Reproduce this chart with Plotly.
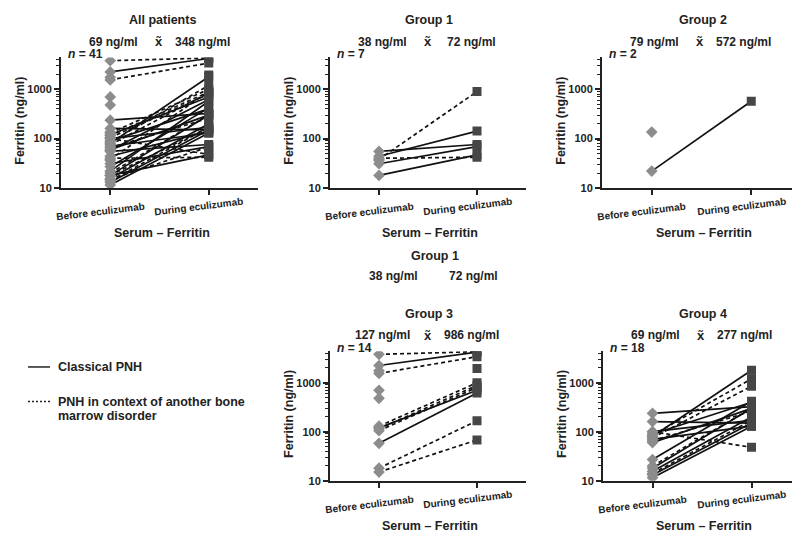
import plotly.graph_objects as go

# ---------------- data (ng/ml); None = value missing ----------------
# type: "C" = classical PNH (solid), "O" = PNH in context of another bone marrow disorder (dashed)
G1_BEFORE = [55, 38, 44, 40, 31, 18, 36]
G1_AFTER = [76, 900, 142, 42, 69, 47, None]
G1_TYPE = ["C", "O", "C", "O", "C", "C", "C"]

G2_BEFORE = [136, 22]
G2_AFTER = [None, 572]
G2_TYPE = ["C", "C"]

G3_BEFORE = [3800, 2250, 1550, 1750, 700, 480, None, 130, 120, 115, 105, 58, 18, 15]
G3_AFTER = [4300, 4200, 3400, None, None, None, 1950, 1000, 700, 880, 800, 620, 168, 68]
G3_TYPE = ["O", "C", "O", "C", "C", "C", "C", "O", "C", "O", "O", "C", "O", "O"]

G4_BEFORE = [237, 161, 100, 100, 80, 85, 75, 90, 70, 60, 65, 27, 20, 18, 15.5, 14, 13, 11.5]
G4_AFTER = [324, 150, 170, 48, 1800, 1200, 850, 400, 130, 300, 260, 420, 300, 300, 200, 170, 150, 130]
G4_TYPE = ["C", "C", "C", "O", "C", "O", "O", "C", "C", "C", "O", "C", "O", "C", "C", "O", "C", "C"]

CATEGORIES = ["Before eculizumab", "During eculizumab"]
PANEL_TITLES = ["All patients", "Group 1", "Group 2", "Group 3", "Group 4"]
MEDIAN_BEFORE = ["69 ng/ml", "38 ng/ml", "79 ng/ml", "127 ng/ml", "69 ng/ml"]
MEDIAN_AFTER = ["348 ng/ml", "72 ng/ml", "572 ng/ml", "986 ng/ml", "277 ng/ml"]
N_LABELS = ["41", "7", "2", "14", "18"]

groups = [
    (G1_BEFORE + G2_BEFORE + G3_BEFORE + G4_BEFORE,
     G1_AFTER + G2_AFTER + G3_AFTER + G4_AFTER,
     G1_TYPE + G2_TYPE + G3_TYPE + G4_TYPE),
    (G1_BEFORE, G1_AFTER, G1_TYPE),
    (G2_BEFORE, G2_AFTER, G2_TYPE),
    (G3_BEFORE, G3_AFTER, G3_TYPE),
    (G4_BEFORE, G4_AFTER, G4_TYPE),
]

W, H = 800, 540
FONT = "Liberation Sans, Arial, sans-serif"

# panel geometry in window pixels: (left, right, top, bottom)
panels = [
    (53, 250, 50, 182),
    (322, 518, 50, 182),
    (594, 793, 50, 182),
    (322, 518, 347, 478),
    (595, 793, 347, 478),
]


def PX(x):
    return x / W


def PY(y):
    return 1 - y / H


fig = go.Figure()
layout = dict(
    width=W, height=H, margin=dict(l=0, r=0, t=0, b=0),
    paper_bgcolor="white", plot_bgcolor="white", showlegend=False,
    font=dict(family=FONT, color="#222"),
)
annotations = []


def ann(x, y, text, size=12, xanchor="center", angle=0):
    annotations.append(dict(
        x=PX(x), y=PY(y), xref="paper", yref="paper", text=text, showarrow=False,
        font=dict(size=size, family=FONT, color="#222"), xanchor=xanchor,
        yanchor="middle", textangle=angle,
    ))


minor_vals = [v * m for v in (10, 100, 1000) for m in range(2, 10) if v * m <= 4400]

for i, ((before, after, types), (l, r, t, b)) in enumerate(zip(groups, panels)):
    k = "" if i == 0 else str(i + 1)
    xa, ya = "x" + k, "y" + k
    # connecting lines
    for kind, dash in (("C", "solid"), ("O", "4px,3px")):
        xs, ys = [], []
        for bv, av, tp in zip(before, after, types):
            if tp == kind and bv is not None and av is not None:
                xs += [0, 1, None]
                ys += [bv, av, None]
        if xs:
            fig.add_trace(go.Scatter(x=xs, y=ys, mode="lines", xaxis=xa, yaxis=ya,
                                     line=dict(color="#111", width=1.7, dash=dash),
                                     hoverinfo="skip"))
    bvals = [v for v in before if v is not None]
    avals = [v for v in after if v is not None]
    fig.add_trace(go.Scatter(x=[0] * len(bvals), y=bvals, mode="markers", xaxis=xa, yaxis=ya,
                             marker=dict(symbol="diamond", size=9, color="#8c8c8c")))
    fig.add_trace(go.Scatter(x=[1] * len(avals), y=avals, mode="markers", xaxis=xa, yaxis=ya,
                             marker=dict(symbol="square", size=9, color="#464646")))

    layout["xaxis" + k] = dict(
        domain=[PX(l), PX(r)], range=[-0.5, 1.5], anchor=ya,
        showline=True, linewidth=2, linecolor="#222", ticks="outside", ticklen=5,
        tickwidth=1.5, tickcolor="#222", tickvals=[0, 1], showticklabels=False,
        showgrid=False, zeroline=False, fixedrange=True,
    )
    layout["yaxis" + k] = dict(
        domain=[PY(b), PY(t)], type="log", range=[1, 3.645], anchor=xa,
        showline=True, linewidth=2, linecolor="#222", ticks="outside", ticklen=5,
        tickwidth=1.5, tickcolor="#222", tickvals=[10, 100, 1000], ticktext=["10", "100", "1000"],
        tickfont=dict(size=11, family=FONT, color="#222", weight="bold"),
        minor=dict(tickvals=minor_vals, ticks="outside", ticklen=3, tickwidth=1, tickcolor="#222"),
        showgrid=False, zeroline=False, fixedrange=True,
    )

    cx = (l + r) / 2 + 2
    # titles and medians
    ann(cx + (-1 if i else 1), t - 38, "<b>%s</b>" % PANEL_TITLES[i], size=12.5)
    bx, ax_ = l + 50, l + 147  # x position of categories
    ann(bx + 2, t - 16, "<b>%s</b>" % MEDIAN_BEFORE[i], size=12)
    ann((bx + ax_) / 2 - 1, t - 16, "<b>x\u0303</b>", size=13)
    ann(ax_ - 6, t - 16, "<b>%s</b>" % MEDIAN_AFTER[i], size=12)
    ann(l + 5, t - 3, "<b><i>n</i> = %s</b>" % N_LABELS[i], size=12, xanchor="left")
    # y title
    ann(l - 41, (t + b) / 2 - 2, "<b>Ferritin (ng/ml)</b>", size=12.5, angle=-90)
    # category labels
    for j, dy in ((0, 24), (1, 19)):
        annotations.append(dict(x=j, y=PY(b + dy), xref=xa, yref="paper", xshift=-10,
                                xanchor="center", yanchor="middle",
                                text="<b>%s</b>" % CATEGORIES[j], showarrow=False, textangle=-7,
                                font=dict(size=10, family=FONT, color="#222")))
    ann(cx, b + 46, "<b>Serum \u2013 Ferritin</b>", size=12.5)

# stray repeated heading in the middle of the figure
ann(427, 251, "<b>Group 1</b>", size=12.5)
ann(385, 271, "<b>38 ng/ml</b>", size=12)
ann(465, 271, "<b>72 ng/ml</b>", size=12)

# legend (drawn manually)
shapes = [
    dict(type="line", xref="paper", yref="paper", x0=PX(20), x1=PX(42), y0=PY(363), y1=PY(363),
         line=dict(color="#222", width=1.5)),
    dict(type="line", xref="paper", yref="paper", x0=PX(20), x1=PX(42), y0=PY(398), y1=PY(398),
         line=dict(color="#222", width=1.5, dash="2px,2px")),
]
ann(48, 363, "<b>Classical PNH</b>", size=12.5, xanchor="left")
ann(48, 398, "<b>PNH in context of another bone</b>", size=12.5, xanchor="left")
ann(48, 413, "<b>marrow disorder</b>", size=12.5, xanchor="left")

layout["annotations"] = annotations
layout["shapes"] = shapes
fig.update_layout(**layout)
fig.write_html("out.html")
